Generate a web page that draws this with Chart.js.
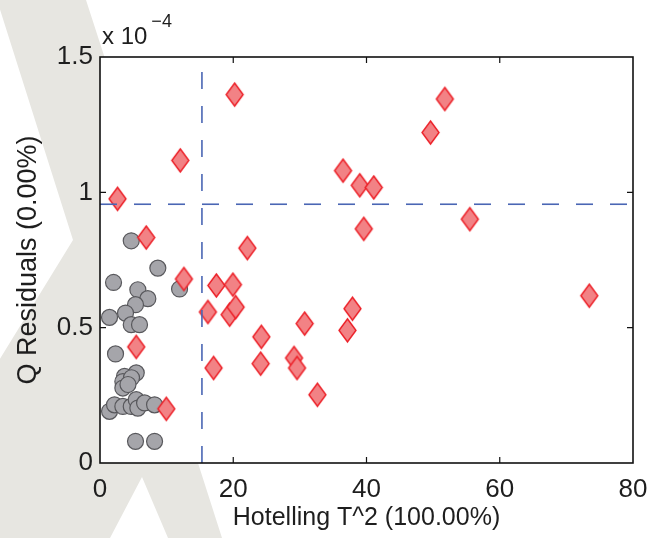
<!DOCTYPE html>
<html>
<head>
<meta charset="utf-8">
<script src="https://cdn.jsdelivr.net/npm/chart.js@4.4.1/dist/chart.umd.min.js"></script>
<style>
  html, body { margin: 0; padding: 0; background: #fff; }
  #wrap { width: 653px; height: 538px; }
</style>
</head>
<body>
<div id="wrap"><canvas id="qChart" width="653" height="538"></canvas></div>
<script>
// Q residuals vs Hotelling T^2 (Q values in units of 1e-4)

// normal samples (grey circles)
const normalT2 = [4.69, 8.68, 2.03, 5.68, 7.18, 11.94, 5.33, 3.83, 1.43, 4.69, 5.93, 2.33,
                  5.44, 3.68, 3.43, 3.43, 4.73, 4.2, 1.43, 2.18, 3.43, 4.69, 5.44, 5.68, 6.69, 8.19,
                  5.33, 8.19];
const normalQ  = [0.821, 0.720, 0.667, 0.640, 0.607, 0.643, 0.585, 0.554, 0.538, 0.511, 0.511, 0.403,
                  0.333, 0.320, 0.301, 0.277, 0.315, 0.290, 0.191, 0.215, 0.209, 0.209, 0.234, 0.203, 0.222, 0.215,
                  0.080, 0.080];

// fault samples (red diamonds)
const faultT2 = [2.63, 6.94, 12.59, 5.44, 9.95, 20.21, 12.05, 22.12, 39.59, 17.46, 19.95, 16.20,
                 19.46, 20.36, 30.72, 37.89, 37.14, 24.22, 17.05, 24.11, 29.12, 29.57, 32.63, 51.76,
                 49.61, 36.48, 38.99, 41.09, 55.51, 73.44];
const faultQ  = [0.976, 0.833, 0.680, 0.429, 0.200, 1.361, 1.118, 0.794, 0.865, 0.656, 0.659, 0.558,
                 0.548, 0.576, 0.515, 0.570, 0.490, 0.466, 0.351, 0.367, 0.388, 0.351, 0.252, 1.345,
                 1.221, 1.080, 1.026, 1.018, 0.901, 0.618];

// 95% confidence limits
const t2Limit = 15.3;
const qLimit = 0.956;

const xRange = [0, 80];
const yRange = [0, 1.5];
const xTicks = [0, 20, 40, 60, 80];
const yTicks = [0, 0.5, 1, 1.5];
const yTickLabels = ["0", "0.5", "1", "1.5"];

const FONT = '"Liberation Sans", Arial, sans-serif';
const TEXT = "#1e1e1e";

function makeDiamond(w, h, fill, stroke, lw) {
  const c = document.createElement("canvas");
  c.width = w + 4;
  c.height = h + 4;
  const g = c.getContext("2d");
  const cx = c.width / 2, cy = c.height / 2;
  g.beginPath();
  g.moveTo(cx, cy - h / 2);
  g.lineTo(cx + w / 2, cy);
  g.lineTo(cx, cy + h / 2);
  g.lineTo(cx - w / 2, cy);
  g.closePath();
  g.fillStyle = fill;
  g.fill();
  g.lineWidth = lw;
  g.strokeStyle = stroke;
  g.stroke();
  return c;
}

const diamond = makeDiamond(17, 23, "#f28285", "#ec1c24", 1.4);

const toPts = (xs, ys) => xs.map((x, i) => ({ x, y: ys[i] }));

// light grey watermark behind the figure
const watermark = {
  id: "watermark",
  beforeDraw(chart) {
    const { ctx, chartArea: a } = chart;
    ctx.save();
    ctx.fillStyle = "#fff";
    ctx.fillRect(0, 0, chart.width, chart.height);
    ctx.fillStyle = "#e7e6e1";
    ctx.beginPath();
    [[-3, 0], [86, 0], [180, 290], [198, 463], [222, 538], [168, 538], [142, 477],
     [110, 538], [-110, 538], [73, 240]].forEach(([px, py], i) => i ? ctx.lineTo(px, py) : ctx.moveTo(px, py));
    ctx.closePath();
    ctx.fill();
    ctx.fillStyle = "#fff";
    ctx.fillRect(a.left, a.top, a.right - a.left, a.bottom - a.top);
    ctx.restore();
  }
};

// box, inward ticks and the exponent label
const frame = {
  id: "frame",
  afterDraw(chart) {
    const { ctx, chartArea: a, scales: { x, y } } = chart;
    ctx.save();
    ctx.strokeStyle = "#111";
    ctx.lineWidth = 1.6;
    ctx.strokeRect(a.left, a.top, a.right - a.left, a.bottom - a.top);

    ctx.beginPath();
    xTicks.forEach((v) => {
      if (v === xRange[0] || v === xRange[1]) return;
      const px = x.getPixelForValue(v);
      ctx.moveTo(px, a.bottom); ctx.lineTo(px, a.bottom - 6);
      ctx.moveTo(px, a.top);    ctx.lineTo(px, a.top + 6);
    });
    yTicks.forEach((v) => {
      if (v === yRange[0] || v === yRange[1]) return;
      const py = y.getPixelForValue(v);
      ctx.moveTo(a.left, py);  ctx.lineTo(a.left + 6, py);
      ctx.moveTo(a.right, py); ctx.lineTo(a.right - 6, py);
    });
    ctx.lineWidth = 1.2;
    ctx.stroke();

    ctx.fillStyle = TEXT;
    ctx.textBaseline = "alphabetic";
    ctx.textAlign = "left";
    ctx.font = "24px " + FONT;
    ctx.fillText("x 10", a.left + 2, 44);
    const w = ctx.measureText("x 10").width;
    ctx.font = "18px " + FONT;
    ctx.fillText("\u22124", a.left + 6 + w, 27);
    ctx.restore();
  }
};

new Chart(document.getElementById("qChart"), {
  type: "scatter",
  data: {
    datasets: [
      {
        type: "line",
        data: [{ x: t2Limit, y: yRange[0] }, { x: t2Limit, y: yRange[1] }],
        borderColor: "#4a66b4",
        borderWidth: 1.6,
        borderDash: [17, 17],
        pointRadius: 0,
        fill: false,
        order: 0
      },
      {
        type: "line",
        data: [{ x: xRange[0], y: qLimit }, { x: xRange[1], y: qLimit }],
        borderColor: "#4a66b4",
        borderWidth: 1.6,
        borderDash: [17, 17],
        pointRadius: 0,
        fill: false,
        order: 0
      },
      {
        data: toPts(faultT2, faultQ),
        pointStyle: diamond,
        pointRadius: 10,
        order: 1
      },
      {
        data: toPts(normalT2, normalQ),
        pointStyle: "circle",
        pointRadius: 8,
        backgroundColor: "#a5a5aa",
        borderColor: "#58585c",
        borderWidth: 1.2,
        order: 2
      }
    ]
  },
  plugins: [watermark, frame],
  options: {
    responsive: false,
    animation: false,
    devicePixelRatio: 1,
    events: [],
    layout: { padding: { left: 0, right: 20, top: 57, bottom: 0 } },
    plugins: { legend: { display: false }, tooltip: { enabled: false } },
    scales: {
      x: {
        type: "linear",
        min: xRange[0],
        max: xRange[1],
        afterBuildTicks: (s) => { s.ticks = xTicks.map((v) => ({ value: v })); },
        afterFit: (s) => { s.height = 75; s.paddingLeft = 0; s.paddingRight = 0; },
        grid: { display: false, drawTicks: false },
        border: { display: false },
        ticks: {
          color: TEXT,
          font: { family: FONT, size: 26 },
          padding: 11,
          maxRotation: 0,
          autoSkip: false,
          callback: (v) => String(v)
        },
        title: {
          display: true,
          text: "Hotelling T^2 (100.00%)",
          color: TEXT,
          font: { family: FONT, size: 25 },
          padding: { top: 0, bottom: 5 }
        }
      },
      y: {
        type: "linear",
        min: yRange[0],
        max: yRange[1],
        afterBuildTicks: (s) => { s.ticks = yTicks.map((v) => ({ value: v })); },
        afterFit: (s) => { s.width = 100; s.paddingTop = 0; s.paddingBottom = 0; },
        grid: { display: false, drawTicks: false },
        border: { display: false },
        ticks: {
          color: TEXT,
          font: { family: FONT, size: 26 },
          padding: 7,
          callback: (v, i) => yTickLabels[i]
        },
        title: {
          display: true,
          text: "Q Residuals (0.00%)",
          color: TEXT,
          font: { family: FONT, size: 27 },
          padding: { top: 12, bottom: 0 }
        }
      }
    }
  }
});
</script>
</body>
</html>
